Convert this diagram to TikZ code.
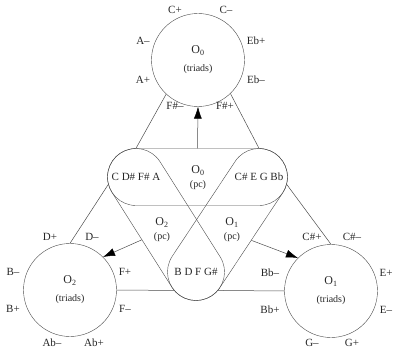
\documentclass[tikz,border=0pt]{standalone}
\usepackage{fontspec}
\setmainfont{Liberation Serif}
\usetikzlibrary{shapes.misc, arrows.meta}

\tikzset{
  triad/.style={circle, draw=black!70, minimum size=93pt, inner sep=0pt, align=center,
    font=\fontsize{12}{14}\selectfont, text=black!85},
  pill/.style={rounded rectangle, draw=black!70, minimum height=57pt, inner sep=0pt},
  pcset/.style={circle, minimum size=57pt, inner sep=0pt, font=\fontsize{11}{13}\selectfont, text=black!85},
  pcname/.style={align=center, inner sep=0pt, font=\fontsize{12}{14}\selectfont, text=black!85},
  note/.style={font=\fontsize{11}{13}\selectfont, inner sep=0pt, text=black!85},
  link/.style={draw=black!70, line width=0.5pt},
  feed/.style={link, -{Latex[length=12pt,width=8pt,color=black]}}
}
\newcommand{\subtext}{\fontsize{10}{12}\selectfont}

\begin{document}
\begin{tikzpicture}[x=1pt, y=-1pt]
        \useasboundingbox (0,0) rectangle (393,350);

        % Triad circles
        \node[triad] (o0) at (198,60) {O\textsubscript{0}\\[4pt]{\subtext (triads)}};
        \node[triad] (o2) at (70,290) {O\textsubscript{2}\\[4pt]{\subtext (triads)}};
        \node[triad] (o1) at (331,291) {O\textsubscript{1}\\[4pt]{\subtext (triads)}};

        % Pitch-class sets
        \node[pcset] (tl) at (136,177) {C D\# F\# A};
        \node[pcset] (tr) at (259,177) {C\# E G Bb};
        \node[pcset] (b) at (196,272) {B D F G\#};

        % Pills
        \node[pill, minimum width=180pt] (p0) at (197.5,177) {};
        \node[pill, minimum width=169.4pt, rotate=-57.7] (pl) at (166,224.5) {};
        \node[pill, minimum width=171pt, rotate=56.45] (pr) at (227.5,224.5) {};

        % Pc names
        \node[pcname] (n0) at (198,178) {O\textsubscript{0}\\{\subtext (pc)}};
        \node[pcname] (n2) at (162,230) {O\textsubscript{2}\\{\subtext (pc)}};
        \node[pcname] (n1) at (232,230) {O\textsubscript{1}\\{\subtext (pc)}};

        % Outer triangle
        \draw[link] (o0.227) -- (tl.north);
        \draw[link] (tl.195) -- (o2.north);
        \draw[link] (o0.314) -- (tr.north);
        \draw[link] (tr.345) -- (o1.north);
        \draw[link] (o2.east) -- (b.220);
        \draw[link] (b.320) -- (o1.west);

        % Arrows
        \draw[feed] (p0.north) -- (o0.south);
        \draw[feed] (pl.south) -- (o2.45);
        \draw[feed] (pr.south) -- (o1.135);

        % Triad labels
        \foreach \t/\x/\y [count=\i] in {C+/175/10, C--/226/10, A--/143/41, Eb+/256/41,
            A+/143/80, Eb--/256/80, F\#--/175/106, F\#+/225/106}
            \node[note] (a\i) at (\x,\y) {\t};
        \foreach \t/\x/\y [count=\i] in {D+/50/237, D--/92/237, B--/13/272, F+/125/272,
            B+/13/309, F--/125/309, Ab--/52/343, Ab+/94/343}
            \node[note] (c\i) at (\x,\y) {\t};
        \foreach \t/\x/\y [count=\i] in {C\#+/312/237, C\#--/352/237, Bb--/270/273, E+/386/273,
            Bb+/270/310, E--/386/310, G--/312/343, G+/352/343}
            \node[note] (e\i) at (\x,\y) {\t};
\end{tikzpicture}
\end{document}
